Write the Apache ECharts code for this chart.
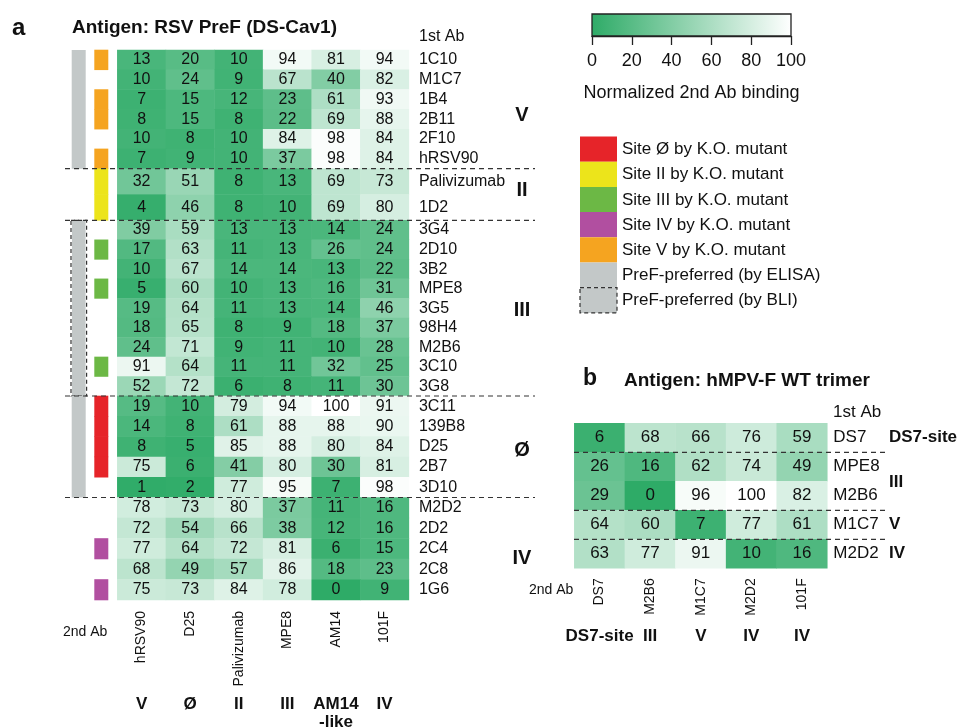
<!DOCTYPE html>
<html>
<head>
<meta charset="utf-8">
<script src="https://cdn.jsdelivr.net/npm/echarts@6/dist/echarts.min.js"></script>
<style>
  html, body { margin: 0; padding: 0; background: #fff; }
  #chart-container { width: 963px; height: 727px; }
</style>
</head>
<body>
<div id="chart-container"></div>
<script>
// ---- data: panel a (RSV PreF) ----
const colsA = ['hRSV90', 'D25', 'Palivizumab', 'MPE8', 'AM14', '101F'];
const colSitesA = ['V', 'Ø', 'II', 'III', 'AM14\n-like', 'IV'];

const rowsV = ['1C10', 'M1C7', '1B4', '2B11', '2F10', 'hRSV90'];
const valuesV = [
    [13, 20, 10, 94, 81, 94],
    [10, 24, 9, 67, 40, 82],
    [7, 15, 12, 23, 61, 93],
    [8, 15, 8, 22, 69, 88],
    [10, 8, 10, 84, 98, 84],
    [7, 9, 10, 37, 98, 84]
];
const sitesV = ['V', null, 'V', 'V', null, 'V'];

const rowsII = ['Palivizumab', '1D2'];
const valuesII = [
    [32, 51, 8, 13, 69, 73],
    [4, 46, 8, 10, 69, 80]
];
const sitesII = ['II', 'II'];

const rowsIII = ['3G4', '2D10', '3B2', 'MPE8', '3G5', '98H4', 'M2B6', '3C10', '3G8'];
const valuesIII = [
    [39, 59, 13, 13, 14, 24],
    [17, 63, 11, 13, 26, 24],
    [10, 67, 14, 14, 13, 22],
    [5, 60, 10, 13, 16, 31],
    [19, 64, 11, 13, 14, 46],
    [18, 65, 8, 9, 18, 37],
    [24, 71, 9, 11, 10, 28],
    [91, 64, 11, 11, 32, 25],
    [52, 72, 6, 8, 11, 30]
];
const sitesIII = [null, 'III', null, 'III', null, null, null, 'III', null];

const rowsZero = ['3C11', '139B8', 'D25', '2B7', '3D10'];
const valuesZero = [
    [19, 10, 79, 94, 100, 91],
    [14, 8, 61, 88, 88, 90],
    [8, 5, 85, 88, 80, 84],
    [75, 6, 41, 80, 30, 81],
    [1, 2, 77, 95, 7, 98]
];
const sitesZero = ['Ø', 'Ø', 'Ø', 'Ø', null];

const rowsIV = ['M2D2', '2D2', '2C4', '2C8', '1G6'];
const valuesIV = [
    [78, 73, 80, 37, 11, 16],
    [72, 54, 66, 38, 12, 16],
    [77, 64, 72, 81, 6, 15],
    [68, 49, 57, 86, 18, 23],
    [75, 73, 84, 78, 0, 9]
];
const sitesIV = [null, null, 'IV', null, 'IV'];

// ---- data: panel b (hMPV-F) ----
const colsB = ['DS7', 'M2B6', 'M1C7', 'M2D2', '101F'];
const colSitesB = ['DS7-site', 'III', 'V', 'IV', 'IV'];
const rowsB = ['DS7', 'MPE8', 'M2B6', 'M1C7', 'M2D2'];
const valuesB = [
    [6, 68, 66, 76, 59],
    [26, 16, 62, 74, 49],
    [29, 0, 96, 100, 82],
    [64, 60, 7, 77, 61],
    [63, 77, 91, 10, 16]
];

// ---- legend ----
const legendLabels = ['Site Ø by K.O. mutant', 'Site II by K.O. mutant', 'Site III by K.O. mutant',
    'Site IV by K.O. mutant', 'Site V by K.O. mutant', 'PreF-preferred (by ELISA)', 'PreF-preferred (by BLI)'];
const siteColors = { 'Ø': '#e62429', 'II': '#ece41b', 'III': '#6cb845', 'IV': '#b14fa0', 'V': '#f5a420' };
const grayPref = '#c3c8c8';
const scaleColors = ['#2eab67', '#ffffff'];

const FONT = '"Liberation Sans", Arial, sans-serif';
const INK = '#111';

(function () {
    const chartDom = document.getElementById('chart-container');
    const myChart = echarts.init(chartDom);

    // group layout of panel a (rows stacked, dashed lines between groups)
    const bounds = [50, 168.7, 220.3, 396, 497.5, 600];
    const groupsA = [
        { rows: rowsV, values: valuesV, sites: sitesV, pref: 'ELISA', label: 'V', labelY: 115 },
        { rows: rowsII, values: valuesII, sites: sitesII, pref: null, label: 'II', labelY: 190 },
        { rows: rowsIII, values: valuesIII, sites: sitesIII, pref: 'BLI', label: 'III', labelY: 310 },
        { rows: rowsZero, values: valuesZero, sites: sitesZero, pref: 'ELISA', label: 'Ø', labelY: 450 },
        { rows: rowsIV, values: valuesIV, sites: sitesIV, pref: null, label: 'IV', labelY: 558 }
    ];

    const toCells = (vals) => {
        const out = [];
        vals.forEach((row, r) => row.forEach((v, c) => out.push([c, r, v])));
        return out;
    };

    const grids = [], xAxes = [], yAxes = [], series = [], graphics = [];
    const last = groupsA.length - 1;

    groupsA.forEach((g, i) => {
        grids.push({ left: 117.3, width: 291.6, top: bounds[i], height: bounds[i + 1] - bounds[i], outerBoundsMode: 'none' });
        xAxes.push({
            type: 'category', gridIndex: i, data: colsA, show: i === last,
            axisLine: { show: false }, axisTick: { show: false },
            axisLabel: { interval: 0, rotate: 90, fontSize: 14, margin: 11, color: INK, fontFamily: FONT }
        });
        yAxes.push({
            type: 'category', gridIndex: i, data: g.rows, inverse: true, position: 'right',
            axisLine: { show: false }, axisTick: { show: false },
            axisLabel: { interval: 0, fontSize: 16, margin: 10, color: INK, fontFamily: FONT }
        });
        series.push({
            type: 'heatmap', xAxisIndex: i, yAxisIndex: i, data: toCells(g.values),
            itemStyle: { borderWidth: 0 },
            label: { show: true, fontSize: 16, color: INK, fontFamily: FONT, formatter: p => p.value[2] },
            emphasis: { disabled: true }
        });
    });

    // site labels under panel a columns
    xAxes.push({
        type: 'category', gridIndex: last, data: colsA, position: 'bottom', offset: 95,
        axisLine: { show: false }, axisTick: { show: false },
        axisLabel: {
            interval: 0, margin: 0, fontSize: 17, fontWeight: 'bold', color: INK, fontFamily: FONT, lineHeight: 18,
            formatter: (v, idx) => colSitesA[idx]
        }
    });

    // panel b
    const gb = grids.length;
    grids.push({ left: 574.3, width: 253, top: 423.3, height: 145, outerBoundsMode: 'none' });
    xAxes.push({
        type: 'category', gridIndex: gb, data: colsB,
        axisLine: { show: false }, axisTick: { show: false },
        axisLabel: { interval: 0, rotate: 90, fontSize: 14, margin: 10, color: INK, fontFamily: FONT }
    });
    xAxes.push({
        type: 'category', gridIndex: gb, data: colsB, position: 'bottom', offset: 60,
        axisLine: { show: false }, axisTick: { show: false },
        axisLabel: {
            interval: 0, margin: 0, fontSize: 17, fontWeight: 'bold', color: INK, fontFamily: FONT,
            formatter: (v, idx) => colSitesB[idx]
        }
    });
    yAxes.push({
        type: 'category', gridIndex: gb, data: rowsB, inverse: true, position: 'right',
        axisLine: { show: false }, axisTick: { show: false },
        axisLabel: { interval: 0, fontSize: 17, margin: 6, color: INK, fontFamily: FONT }
    });
    const bxIndex = xAxes.length - 2;
    series.push({
        type: 'heatmap', xAxisIndex: bxIndex, yAxisIndex: yAxes.length - 1, data: toCells(valuesB),
        itemStyle: { borderWidth: 0 },
        label: { show: true, fontSize: 17, color: INK, fontFamily: FONT, formatter: p => p.value[2] },
        emphasis: { disabled: true }
    });
    const heatIndexes = series.map((s, k) => k);

    // colour scale bar
    const gc = grids.length;
    grids.push({ left: 592, width: 199, top: 14, height: 22, outerBoundsMode: 'none' });
    xAxes.push({
        type: 'value', gridIndex: gc, min: 0, max: 100, interval: 20,
        axisLine: { show: true, lineStyle: { color: '#222', width: 1.3 } },
        axisTick: { show: true, length: 9, lineStyle: { color: '#222', width: 1.3 } },
        splitLine: { show: false },
        axisLabel: { fontSize: 18, margin: 16, color: INK, fontFamily: FONT },
        name: 'Normalized 2nd Ab binding', nameLocation: 'middle', nameGap: 48,
        nameTextStyle: { fontSize: 18, color: INK, fontFamily: FONT }
    });
    yAxes.push({ type: 'value', gridIndex: gc, min: 0, max: 1, show: false });
    series.push({
        type: 'custom', xAxisIndex: xAxes.length - 1, yAxisIndex: yAxes.length - 1, silent: true,
        data: [[0, 100]],
        renderItem: (params, api) => {
            const p0 = api.coord([api.value(0), 0]);
            const p1 = api.coord([api.value(1), 1]);
            return {
                type: 'rect',
                shape: { x: p0[0], y: p1[1], width: p1[0] - p0[0], height: p0[1] - p1[1] },
                style: {
                    fill: new echarts.graphic.LinearGradient(0, 0, 1, 0, [
                        { offset: 0, color: scaleColors[0] }, { offset: 1, color: scaleColors[1] }
                    ]),
                    stroke: '#222', lineWidth: 1.3
                }
            };
        }
    });

    // side annotation bars (site by K.O. mutant, PreF preference)
    groupsA.forEach((g, i) => {
        const marks = g.sites.map((s, r) => ({ row: r, site: s })).filter(m => m.site);
        series.push({
            type: 'custom', xAxisIndex: i, yAxisIndex: i, silent: true, z: 3,
            data: marks.map(m => [0, m.row]),
            renderItem: (params, api) => {
                const c = api.coord([0, api.value(1)]);
                const band = api.size([1, 1]);
                const left = c[0] - band[0] / 2;
                return {
                    type: 'rect',
                    shape: { x: left - 23, y: c[1] - band[1] / 2 - 0.3, width: 14, height: band[1] + 0.6 },
                    style: { fill: siteColors[marks[params.dataIndex].site] }
                };
            }
        });
        if (g.pref) {
            series.push({
                type: 'custom', xAxisIndex: i, yAxisIndex: i, silent: true, z: 3,
                data: [[0, 0, g.rows.length - 1]],
                renderItem: (params, api) => {
                    const band = api.size([1, 1]);
                    const a = api.coord([0, api.value(1)]);
                    const b = api.coord([0, api.value(2)]);
                    const left = a[0] - band[0] / 2;
                    const y0 = a[1] - band[1] / 2, y1 = b[1] + band[1] / 2;
                    if (g.pref === 'BLI') {
                        return {
                            type: 'group', children: [
                                { type: 'rect', shape: { x: left - 45.3, y: y0, width: 13.6, height: y1 - y0 }, style: { fill: grayPref } },
                                { type: 'rect', shape: { x: left - 46.3, y: y0, width: 15.6, height: y1 - y0 },
                                  style: { fill: null, stroke: '#333', lineWidth: 1.2, lineDash: [4, 3] } }
                            ]
                        };
                    }
                    return {
                        type: 'rect', shape: { x: left - 45.6, y: y0, width: 14, height: y1 - y0 },
                        style: { fill: grayPref }
                    };
                }
            });
        }
        graphics.push({
            type: 'text', x: 522, y: g.labelY, z: 10,
            style: { text: g.label, fontSize: 20, fontWeight: 'bold', fontFamily: FONT, fill: INK,
                     textAlign: 'center', textVerticalAlign: 'middle', align: 'center', verticalAlign: 'middle' }
        });
    });

    // dashed separators
    const dash = { stroke: '#333', lineWidth: 1.2, lineDash: [5, 4] };
    bounds.slice(1, -1).forEach(y => {
        graphics.push({ type: 'line', z: 20, shape: { x1: 65, y1: y, x2: 535, y2: y }, style: dash });
    });
    [1, 3, 4].forEach(k => {
        const y = 423.3 + 29 * k;
        graphics.push({ type: 'line', z: 20, shape: { x1: 574, y1: y, x2: 885, y2: y }, style: dash });
    });

    const txt = (text, x, y, size, bold, align) => ({
        type: 'text', x: x, y: y, z: 10,
        style: { text: text, fontSize: size, fontWeight: bold ? 'bold' : 'normal', fontFamily: FONT, fill: INK,
                 textAlign: align || 'left', textVerticalAlign: 'middle', align: align || 'left', verticalAlign: 'middle' }
    });

    graphics.push(txt('a', 12, 28, 24, true));
    graphics.push(txt('Antigen: RSV PreF (DS-Cav1)', 72, 28, 19, true));
    graphics.push(txt('1st Ab', 419, 37, 16, false));
    graphics.push(txt('2nd Ab', 63, 632, 14, false));

    graphics.push(txt('b', 583, 379, 23, true));
    graphics.push(txt('Antigen: hMPV-F WT trimer', 624, 381, 19, true));
    graphics.push(txt('1st Ab', 833, 412, 17, false));
    graphics.push(txt('2nd Ab', 529, 590, 14, false));
    graphics.push(txt('DS7-site', 889, 437, 17, true));
    graphics.push(txt('III', 889, 482, 17, true));
    graphics.push(txt('V', 889, 524, 17, true));
    graphics.push(txt('IV', 889, 553, 17, true));

    // legend of side bars
    const legendFills = [siteColors['Ø'], siteColors['II'], siteColors['III'], siteColors['IV'], siteColors['V'], grayPref, grayPref];
    legendLabels.forEach((lab, k) => {
        const y = 136.5 + 25.2 * k;
        const isBLI = k === legendLabels.length - 1;
        graphics.push({
            type: 'rect', z: 5,
            shape: { x: 580, y: y, width: 37, height: 25.2 },
            style: isBLI ? { fill: grayPref, stroke: '#333', lineWidth: 1.2, lineDash: [4, 3] } : { fill: legendFills[k] }
        });
        graphics.push(txt(lab, 622, y + 13, 17, false));
    });

    const option = {
        animation: false,
        backgroundColor: '#fff',
        textStyle: { fontFamily: FONT },
        grid: grids,
        xAxis: xAxes,
        yAxis: yAxes,
        visualMap: {
            type: 'continuous', show: false, min: 0, max: 100, dimension: 2,
            seriesIndex: heatIndexes,
            inRange: { color: scaleColors }
        },
        series: series,
        graphic: { elements: graphics }
    };
    myChart.setOption(option);
}());
</script>
</body>
</html>
